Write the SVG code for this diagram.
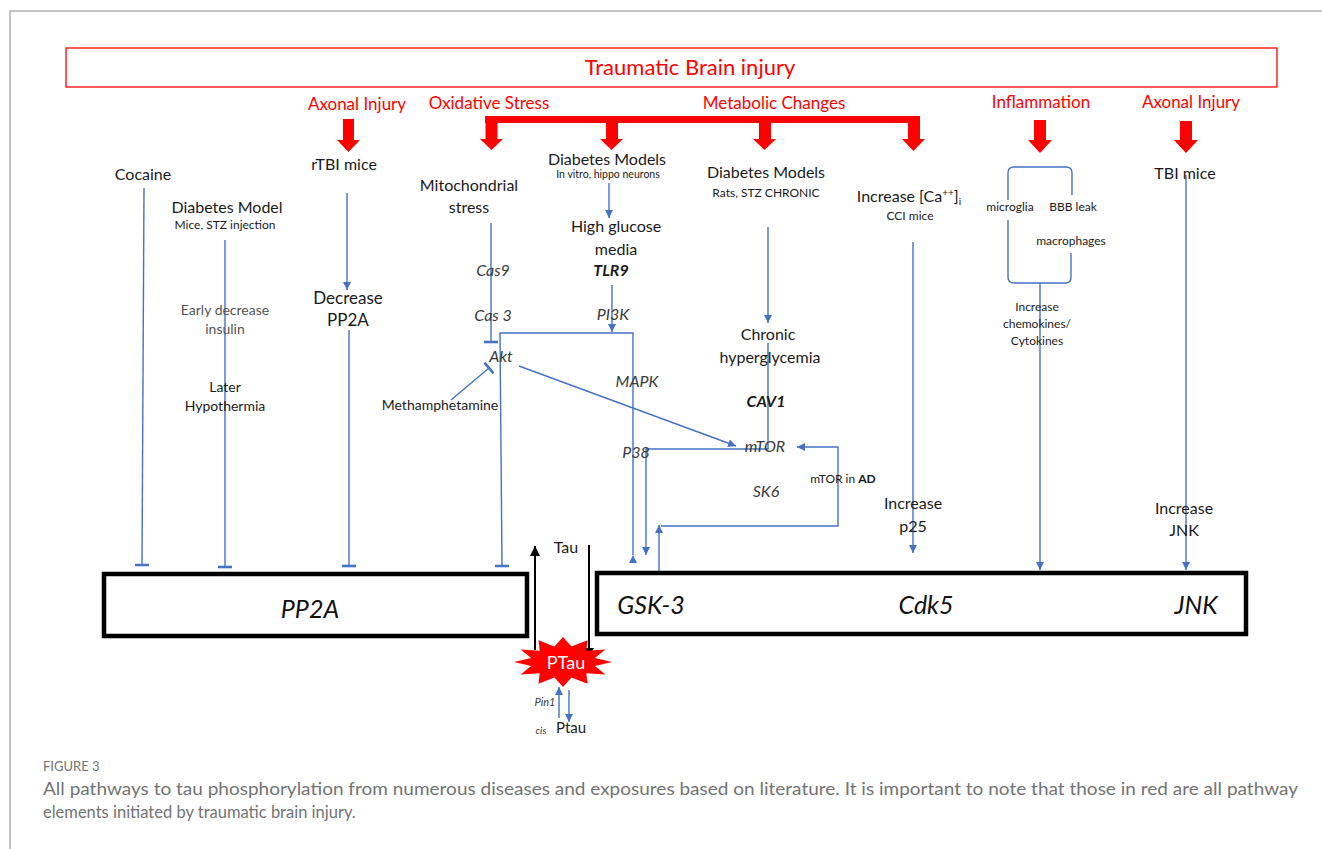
<svg xmlns="http://www.w3.org/2000/svg" width="1322" height="849" viewBox="0 0 1322 849">
<defs>
<style>
.t{font-family:Lato,"Open Sans","Liberation Sans",sans-serif;fill:#1a1a1a;text-anchor:middle}
.lg{font-size:16px}
.md{font-size:14px}
.sm{font-size:12px}
.xs{font-size:10.5px}
.it{font-style:italic;fill:#3a3a3a}
.bi{font-style:italic;font-weight:bold;fill:#1a1a1a}
.lt{fill:#555}
.red{fill:#ff0000;font-size:17px}
.bx{font-style:italic;font-size:25px;fill:#111}
.box{fill:#fff;stroke:#000;stroke-width:4.5}
.bl{fill:none;stroke:#4472c4;stroke-width:1.4}
.blk{fill:none;stroke:#000;stroke-width:2}
.rf{fill:#ff0000}
.cap{font-family:Lato,"Open Sans","Liberation Sans",sans-serif;fill:#737373}
</style>
<marker id="arr" viewBox="0 0 8 8" refX="8" refY="4" markerWidth="8" markerHeight="8" markerUnits="userSpaceOnUse" orient="auto"><path d="M0,0 L8,4 L0,8 z" fill="#4472c4"/></marker>
<marker id="tee" viewBox="-2 -8 4 16" refX="0" refY="0" markerWidth="4" markerHeight="16" markerUnits="userSpaceOnUse" orient="auto"><path d="M0,-7 V7" stroke="#4472c4" stroke-width="2.6"/></marker>
<marker id="barr" viewBox="0 0 10 10" refX="10" refY="5" markerWidth="10" markerHeight="10" markerUnits="userSpaceOnUse" orient="auto"><path d="M0,0 L10,5 L0,10 z" fill="#000"/></marker>
</defs>
<rect width="1322" height="849" fill="#fff"/>
<path d="M10,849 V11 H1322" fill="none" stroke="#b3b3b3" stroke-width="1.5"/>

<g id="title">
<rect x="66" y="48" width="1211" height="39" fill="none" stroke="#ff0000" stroke-width="1.3"/>
<text class="t" x="690" y="75" style="fill:#ff0000;font-size:22px">Traumatic Brain injury</text>
</g>

<g id="red-labels">
<text class="t red" x="357" y="110">Axonal Injury</text>
<text class="t red" x="489" y="109">Oxidative Stress</text>
<text class="t red" x="774" y="109">Metabolic Changes</text>
<text class="t red" x="1041" y="108">Inflammation</text>
<text class="t red" x="1191" y="108">Axonal Injury</text>
</g>

<g id="red-arrows">
<rect class="rf" x="343" y="119" width="11" height="22"/>
<polygon class="rf" points="337,140 360,140 348.5,152"/>
<rect class="rf" x="485" y="116" width="435" height="7"/>
<rect class="rf" x="485.5" y="116" width="12" height="25"/>
<polygon class="rf" points="480,139 503,139 491.5,150"/>
<rect class="rf" x="606" y="116" width="12" height="25"/>
<polygon class="rf" points="600,139 623,139 611.5,150"/>
<rect class="rf" x="759" y="116" width="12" height="25"/>
<polygon class="rf" points="753,139 776,139 764.5,150"/>
<rect class="rf" x="908" y="116" width="12" height="25"/>
<polygon class="rf" points="902,139 925,139 913.5,151"/>
<rect class="rf" x="1034" y="120" width="12" height="21"/>
<polygon class="rf" points="1028,140 1052,140 1040,153"/>
<rect class="rf" x="1180" y="121" width="12" height="20"/>
<polygon class="rf" points="1174,140 1198,140 1186,153"/>
</g>

<g id="connectors">
<path class="bl" d="M144,188 L142,565" marker-end="url(#tee)"/>
<path class="bl" d="M225,240 V567" marker-end="url(#tee)"/>
<path class="bl" d="M347,193 V290" marker-end="url(#arr)"/>
<path class="bl" d="M349,330 V566" marker-end="url(#tee)"/>
<path class="bl" d="M491,223 V342" marker-end="url(#tee)"/>
<path class="bl" d="M451,400 L489,368" marker-end="url(#tee)"/>
<path class="bl" d="M633,555 V333 H500 L502,566" marker-start="url(#arr)" marker-end="url(#tee)"/>
<path class="bl" d="M609,183 V218" marker-end="url(#arr)"/>
<path class="bl" d="M612,285 V332" marker-end="url(#arr)"/>
<path class="bl" d="M519,366 L736,446" marker-end="url(#arr)"/>
<path class="bl" d="M768,227 V323" marker-end="url(#arr)"/>
<path class="bl" d="M768,343 V449 H646 V555" marker-end="url(#arr)"/>
<path class="bl" d="M659,590 V525" marker-end="url(#arr)"/>
<path class="bl" d="M661,526 H838 V447 H797" marker-end="url(#arr)"/>
<path class="bl" d="M913,242 V553" marker-end="url(#arr)"/>
<path class="bl" d="M1008,200 V173 Q1008,167 1014,167 H1066 Q1072,167 1072,173 V195"/>
<path class="bl" d="M1008,220 V277 Q1008,283 1014,283 H1066 Q1071,283 1071,277 V253"/>
<path class="bl" d="M1040,283 V570" marker-end="url(#arr)"/>
<path class="bl" d="M1186,175 V570" marker-end="url(#arr)"/>
<path class="blk" d="M535,650 V546" marker-end="url(#barr)"/>
<path class="blk" d="M589,545 V658" marker-end="url(#barr)"/>
<path class="bl" d="M559,718 V687" marker-end="url(#arr)"/>
<path class="bl" d="M569,690 V722" marker-end="url(#arr)"/>
</g>

<g id="n-cocaine"><text class="t lg" x="143" y="180">Cocaine</text></g>
<g id="n-diabetes-model"><text class="t lg" x="227" y="213">Diabetes Model</text><text class="t sm" x="225" y="229">Mice, STZ injection</text></g>
<g id="n-early"><text class="t md lt" x="225" y="315">Early decrease</text><text class="t md lt" x="225" y="334">insulin</text></g>
<g id="n-later"><text class="t md" x="225" y="392">Later</text><text class="t md" x="225" y="411">Hypothermia</text></g>
<g id="n-rtbi"><text class="t lg" x="344" y="170">rTBI mice</text></g>
<g id="n-decrease"><text class="t" style="font-size:17px" x="348" y="304">Decrease</text><text class="t" style="font-size:17px" x="348" y="326">PP2A</text></g>
<g id="n-mito"><text class="t lg" x="469" y="191">Mitochondrial</text><text class="t lg" x="469" y="213">stress</text></g>
<g id="n-cas9"><text class="t lg it" x="493" y="276">Cas9</text></g>
<g id="n-cas3"><text class="t lg it" x="493" y="321">Cas 3</text></g>
<g id="n-akt"><text class="t lg it" x="501" y="362">Akt</text></g>
<g id="n-meth"><text class="t md" x="440" y="410">Methamphetamine</text></g>
<g id="n-diabetes-vitro"><text class="t lg" x="607" y="165">Diabetes Models</text><text class="t xs" x="608" y="178">In vitro, hippo  neurons</text></g>
<g id="n-glucose"><text class="t lg" x="616" y="232">High glucose</text><text class="t lg" x="616" y="255">media</text></g>
<g id="n-tlr9"><text class="t lg bi" x="611" y="276">TLR9</text></g>
<g id="n-pi3k"><text class="t lg it" x="613" y="320">PI3K</text></g>
<g id="n-mapk"><text class="t lg it" x="637" y="387">MAPK</text></g>
<g id="n-p38"><text class="t lg it" x="636" y="458">P38</text></g>
<g id="n-diabetes-rats"><text class="t lg" x="766" y="178">Diabetes Models</text><text class="t sm" x="766" y="197">Rats, STZ CHRONIC</text></g>
<g id="n-chronic"><text class="t lg" x="768" y="340">Chronic</text><text class="t lg" x="770" y="363">hyperglycemia</text></g>
<g id="n-cav1"><text class="t lg bi" x="766" y="407">CAV1</text></g>
<g id="n-mtor"><text class="t lg it" x="765" y="452">mTOR</text></g>
<g id="n-mtor-ad"><text class="t sm" x="843" y="483">mTOR in <tspan font-weight="bold">AD</tspan></text></g>
<g id="n-sk6"><text class="t lg it" x="766" y="497">SK6</text></g>
<g id="n-ca"><text class="t lg" x="909" y="202">Increase [Ca<tspan font-size="10px" dy="-6">++</tspan><tspan dy="6">]</tspan><tspan font-size="10px" dy="3">i</tspan></text><text class="t sm" x="910" y="220">CCI mice</text></g>
<g id="n-p25"><text class="t lg" x="913" y="509">Increase</text><text class="t lg" x="913" y="532">p25</text></g>
<g id="n-inflam"><text class="t sm" x="1010" y="211">microglia</text><text class="t sm" x="1073" y="211">BBB leak</text><text class="t sm" x="1071" y="245">macrophages</text></g>
<g id="n-chemo"><text class="t sm" x="1037" y="311">Increase</text><text class="t sm" x="1037" y="328">chemokines/</text><text class="t sm" x="1037" y="345">Cytokines</text></g>
<g id="n-tbi"><text class="t lg" x="1185" y="179">TBI mice</text></g>
<g id="n-jnk-inc"><text class="t lg" x="1184" y="514">Increase</text><text class="t lg" x="1184" y="536">JNK</text></g>

<g id="n-pp2a-box"><rect class="box" x="104" y="574" width="423" height="62"/><text class="t bx" x="310" y="618">PP2A</text></g>
<g id="n-kinase-box"><rect class="box" x="597" y="573" width="649" height="61"/>
<text class="t bx" x="651" y="614">GSK-3</text>
<text class="t bx" x="926" y="614">Cdk5</text>
<text class="t bx" x="1196" y="614">JNK</text></g>
<g id="n-tau"><text class="t lg" x="566" y="553">Tau</text></g>
<g id="n-ptau">
<polygon fill="#ff0000" points="612,662 594.9,666.1 605.4,674.5 586.3,673.3 587.5,683.7 571.5,677.5 563,687 554.5,677.5 538.5,683.7 539.7,673.3 520.6,674.5 531.1,666.1 514,662 531.1,657.9 520.6,649.5 539.7,650.7 538.5,640.3 554.5,646.5 563,637 571.5,646.5 587.5,640.3 586.3,650.7 605.4,649.5 594.9,657.9"/>
<text class="t" style="font-size:18px;fill:#fff" x="566" y="669">PTau</text>
</g>
<g id="n-pin1"><text class="t it" style="font-size:11px" x="545" y="706">Pin1</text></g>
<g id="n-cis"><text class="t it" style="font-size:10px" x="541" y="734">cis</text><text class="t" style="font-size:15px" x="571" y="733">Ptau</text></g>

<g id="caption">
<text class="cap" x="43" y="771" style="font-size:13px">FIGURE 3</text>
<text class="cap" x="43" y="795" style="font-size:16.5px" textLength="1255" lengthAdjust="spacingAndGlyphs">All pathways to tau phosphorylation from numerous diseases and exposures based on literature. It is important to note that those in red are all pathway</text>
<text class="cap" x="43" y="818" style="font-size:16.5px">elements initiated by traumatic brain injury.</text>
</g>
</svg>
